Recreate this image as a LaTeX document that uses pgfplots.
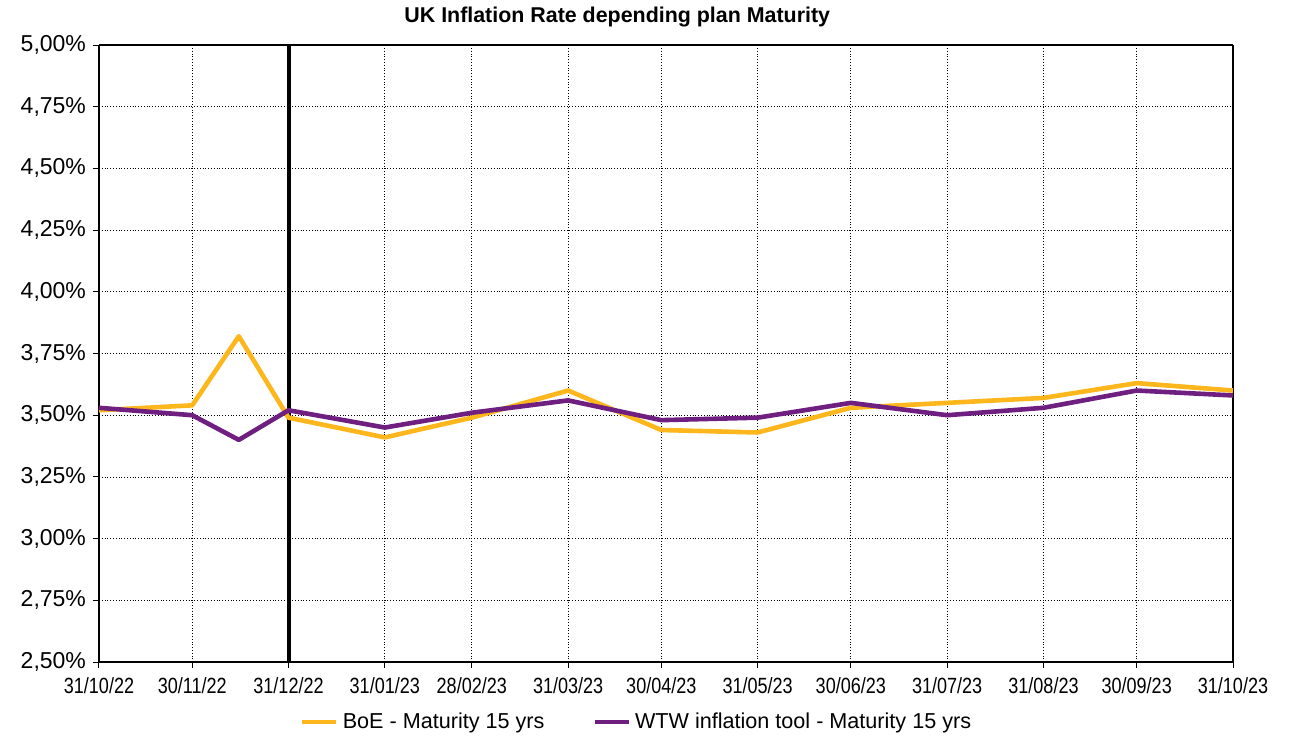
\documentclass[border=0pt]{standalone}
\usepackage{pgfplots}
\pgfplotsset{compat=1.18}
\usepackage{fontspec}
\setmainfont{Liberation Sans}
\definecolor{boe}{HTML}{FDB71C}
\definecolor{wtw}{HTML}{6E1F80}
\begin{document}
\begin{tikzpicture}
\path[use as bounding box] (-49.5pt,-37pt) rectangle (599.5pt,331pt);
\begin{axis}[
  at={(0,0)}, anchor=south west,
  scale only axis,
  width=567pt, height=308.5pt,
  xmin=0, xmax=365, ymin=2.5, ymax=5,
  xtick={0,30,61,92,120,151,181,212,242,273,304,334,365},
  xticklabels={31/10/22,30/11/22,31/12/22,31/01/23,28/02/23,31/03/23,30/04/23,31/05/23,30/06/23,31/07/23,31/08/23,30/09/23,31/10/23},
  ytick={2.5,2.75,3,3.25,3.5,3.75,4,4.25,4.5,4.75,5},
  yticklabel={\pgfmathprintnumber[fixed,fixed zerofill,precision=2,use comma]{\tick}\%},
  /pgf/number format/assume math mode=true,
  yticklabel style={font=\fontsize{11.5}{13}\selectfont},
  xticklabel style={font=\fontsize{11}{13}\selectfont, xscale=0.82, yshift=-1pt},
  tick align=outside,
  tick pos=left,
  major tick length=3pt,
  tick style={black, line width=0.5pt},
  grid=major,
  grid style={black, densely dotted, line width=0.4pt},
  separate axis lines,
  x axis line style={black, line width=0.6pt},
  y axis line style={black, line width=0.6pt},
  legend style={at={(0.475,-0.097)}, anchor=center, draw=none, legend columns=2,
    font=\fontsize{10.8}{12}\selectfont, /tikz/every even column/.append style={column sep=22pt}},
  legend cell align=left,
  legend image code/.code={\draw[#1, line width=2.3pt] (0pt,0pt) -- (17pt,0pt);},
  clip=false,
]
\addplot[black, line width=2pt, forget plot] coordinates {(61,2.5) (61,5)};
\addplot[boe, line width=2.3pt, line join=round] coordinates {
(0,3.52) (30,3.54) (45,3.82) (61,3.49) (92,3.41) (120,3.49) (151,3.60) (181,3.44) (212,3.43) (242,3.53) (273,3.55) (304,3.57) (334,3.63) (365,3.60)};
\addlegendentry{BoE - Maturity 15 yrs}
\addplot[wtw, line width=2.3pt, line join=round] coordinates {
(0,3.53) (30,3.50) (45,3.40) (61,3.52) (92,3.45) (120,3.51) (151,3.56) (181,3.48) (212,3.49) (242,3.55) (273,3.50) (304,3.53) (334,3.60) (365,3.58)};
\addlegendentry{WTW inflation tool - Maturity 15 yrs}
\node[font=\bfseries\fontsize{10.7}{12}\selectfont] at (rel axis cs:0.457,1.045) {UK Inflation Rate depending plan Maturity};
\end{axis}
\end{tikzpicture}
\end{document}
